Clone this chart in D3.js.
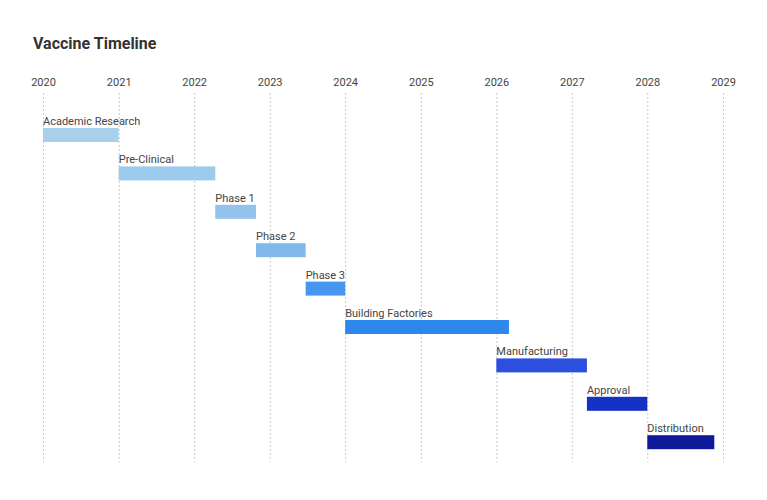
<!DOCTYPE html>
<html>
<head>
<meta charset="utf-8">
<script src="https://cdn.jsdelivr.net/npm/d3@7"></script>
<style>
	body { margin: 0; background: #fff; }
	svg { font-family: Roboto, sans-serif; }
</style>
</head>
<body>
<svg id="chart" width="767" height="500"></svg>
<script>
const tasks = ['Academic Research', 'Pre-Clinical', 'Phase 1', 'Phase 2', 'Phase 3',
	'Building Factories', 'Manufacturing', 'Approval', 'Distribution'];
const startDates = ['2020-01-01', '2021-01-01', '2022-04-13', '2022-10-27', '2023-06-24',
	'2024-01-01', '2026-01-01', '2027-03-15', '2028-01-01'];
const endDates = ['2021-01-01', '2022-04-13', '2022-10-27', '2023-06-24', '2024-01-01',
	'2026-03-03', '2027-03-15', '2028-01-01', '2028-11-20'];
const colors = ['#a8d0ea', '#9ccbed', '#93c2ec', '#82b9ec', '#4797f0',
	'#2e88ec', '#2d4fdf', '#1530c5', '#0e1a9a'];
const tickYears = [2020, 2021, 2022, 2023, 2024, 2025, 2026, 2027, 2028, 2029];

const svg = d3.select('#chart');
const parse = d3.timeParse('%Y-%m-%d');

const x = d3.scaleTime()
	.domain([new Date(2020, 0, 1), new Date(2029, 0, 1)])
	.range([43, 723]);

const y = d3.scaleBand()
	.domain(tasks)
	.range([112, 112 + 38.4 * tasks.length]);

svg.append('text')
	.attr('x', 33)
	.attr('y', 49)
	.style('font-size', '16px')
	.style('font-weight', 'bold')
	.style('fill', '#333')
	.text('Vaccine Timeline');

// grid + ticks
const axis = d3.axisTop(x)
	.tickValues(tickYears.map(t => new Date(t, 0, 1)))
	.tickFormat(d3.timeFormat('%Y'))
	.tickSize(-(462 - 93))
	.tickPadding(7);

const g = svg.append('g')
	.attr('transform', 'translate(0,93)')
	.call(axis);

g.select('.domain').remove();
g.selectAll('.tick line')
	.attr('stroke', '#c8c8c8')
	.attr('stroke-dasharray', '2,2');
g.selectAll('.tick text')
	.style('font-size', '11px')
	.style('fill', '#444')
	.style('font-family', 'Roboto, sans-serif');

// bars
const rows = tasks.map((t, i) => ({
	task: t,
	start: parse(startDates[i]),
	end: parse(endDates[i]),
	color: colors[i]
}));

svg.selectAll('rect.bar')
	.data(rows)
	.enter()
	.append('rect')
	.attr('class', 'bar')
	.attr('x', d => x(d.start))
	.attr('y', d => y(d.task) + 16)
	.attr('width', d => x(d.end) - x(d.start))
	.attr('height', 14)
	.style('fill', d => d.color);

svg.selectAll('text.label')
	.data(rows)
	.enter()
	.append('text')
	.attr('class', 'label')
	.attr('x', d => x(d.start))
	.attr('y', d => y(d.task) + 13)
	.style('font-size', '11px')
	.style('fill', '#444')
	.text(d => d.task);
</script>
</body>
</html>
